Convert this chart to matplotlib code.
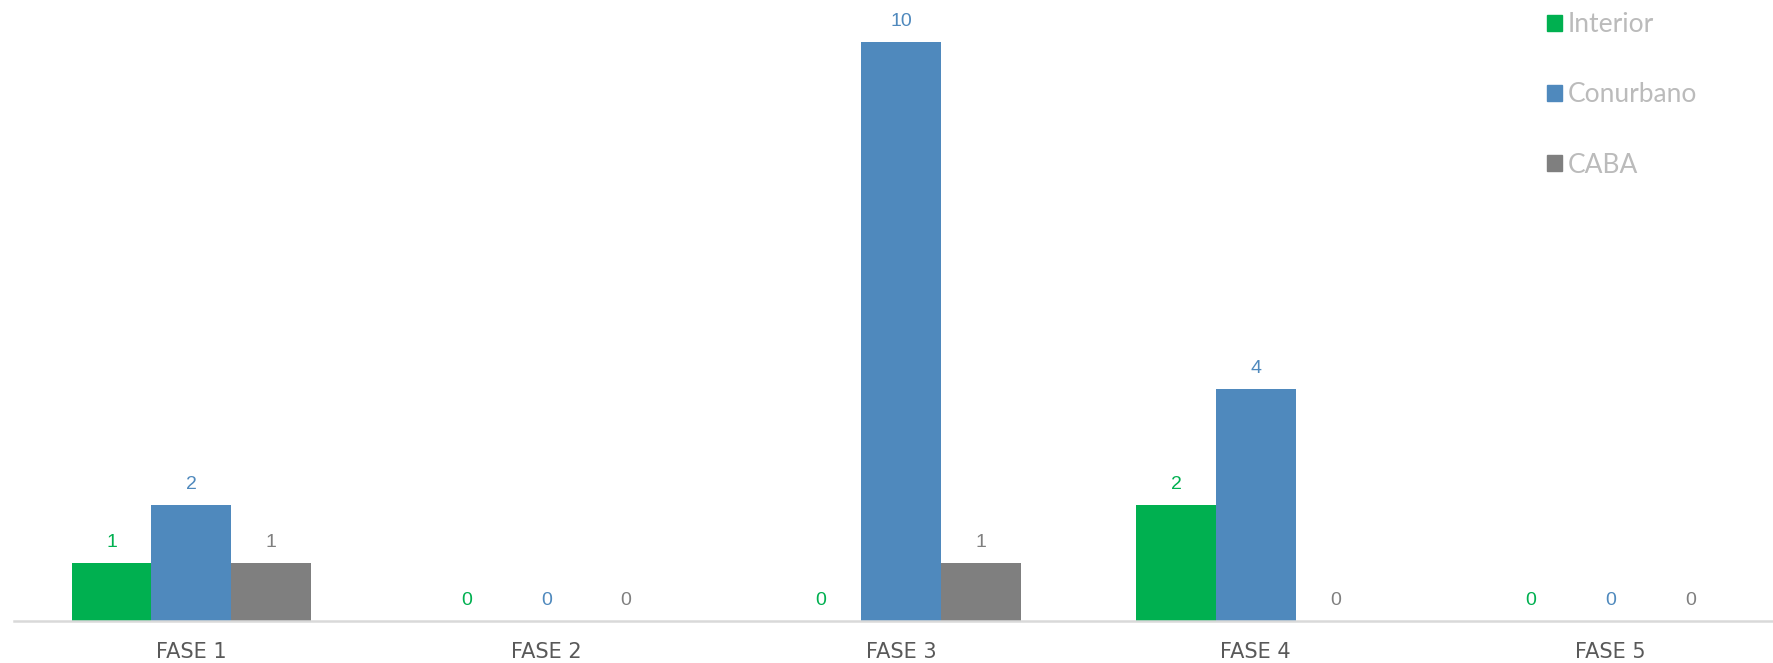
import numpy as np
import matplotlib.pyplot as plt
from matplotlib.patches import Patch

# Data
categorias = ['FASE 1', 'FASE 2', 'FASE 3', 'FASE 4', 'FASE 5']
interior = [1, 0, 0, 2, 0]
conurbano = [2, 0, 10, 4, 0]
caba = [1, 0, 1, 0, 0]

series = [('Interior', interior, '#00B050'),
          ('Conurbano', conurbano, '#4F89BD'),
          ('CABA', caba, '#7F7F7F')]

fig = plt.figure(figsize=(17.74, 6.63), dpi=100)
# category slots are ~355 px wide, so the axes run a bit past the right edge
ax = fig.add_axes([14 / 1774, 42 / 663, 5 * 354.8 / 1774, 1 - 42 / 663])

x = np.arange(len(categorias))
w = 0.225
for i, (name, vals, col) in enumerate(series):
    pos = x + (i - 1) * w
    ax.bar(pos, vals, width=w, color=col, label=name)
    for px, v in zip(pos, vals):
        ax.annotate(str(v), (px, v), xytext=(0, 8.5), textcoords='offset points',
                    ha='center', va='bottom', fontsize=14, color=col,
                    family='Liberation Sans')

ax.set_xlim(-0.5, len(categorias) - 0.5)
ax.set_ylim(0, 10.72)
ax.set_yticks([])
ax.set_xticks(x)
ax.set_xticklabels(categorias, fontsize=15, color='#595959', family='DejaVu Sans')
ax.tick_params(axis='x', length=0, pad=15)
for s in ['top', 'right', 'left']:
    ax.spines[s].set_visible(False)
ax.spines['bottom'].set_color('#D9D9D9')
ax.spines['bottom'].set_linewidth(1.8)

handles = [Patch(color=c, label=n) for n, _, c in series]
leg = fig.legend(handles=handles, loc='upper left', bbox_to_anchor=(1547 / 1774, 1 - 12 / 663),
                 frameon=False, handlelength=0.55, handleheight=0.55,
                 handletextpad=0.25, labelspacing=1.72, borderpad=0, borderaxespad=0,
                 prop={'family': 'Lato', 'size': 19})
for t in leg.get_texts():
    t.set_color('#BBBBBB')

fig.savefig('out.png', dpi=100)
